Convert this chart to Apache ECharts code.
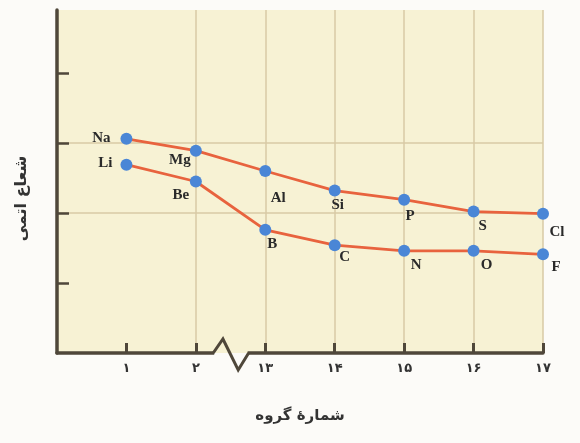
<!DOCTYPE html>
<html>
<head>
<meta charset="utf-8">
<script src="https://cdn.jsdelivr.net/npm/echarts@6/dist/echarts.min.js"></script>
<style>
html,body{margin:0;padding:0;background:#fcfbf8;}
#chart{width:580px;height:443px;}
</style>
</head>
<body>
<div id="chart"></div>
<script>
// Category positions (index on axis) and their tick labels
const groupPositions = [1, 2, 3, 4, 5, 6, 7];
const groupLabels = ['۱', '۲', '۱۳', '۱۴', '۱۵', '۱۶', '۱۷'];

// Period 3 elements (upper line)
const period3Symbols = ['Na', 'Mg', 'Al', 'Si', 'P', 'S', 'Cl'];
const period3Radius = [3.06, 2.89, 2.60, 2.32, 2.19, 2.02, 1.99];

// Period 2 elements (lower line)
const period2Symbols = ['Li', 'Be', 'B', 'C', 'N', 'O', 'F'];
const period2Radius = [2.69, 2.45, 1.76, 1.54, 1.46, 1.46, 1.41];

const yTicks = [1, 2, 3, 4];

// label offsets (style only)
const period3Offsets = [[-25, -1], [-16, 9], [13, 27], [3, 15], [6, 16], [9, 15], [14, 18]];
const period2Offsets = [[-21, -2], [-15, 14], [7, 14], [10, 12], [12, 14], [13, 14], [13, 13]];

const plotBg = '#f7f2d4';
const pageBg = '#fcfbf8';
const axisColor = '#4f473a';
const gridColor = '#d9caa6';

function buildData(xs, ys, names, offsets) {
  return ys.map((v, i) => ({
    value: [xs[i], v],
    name: names[i],
    label: { offset: offsets[i] }
  }));
}

const labelStyle = {
  show: true,
  position: 'inside',
  formatter: p => p.name,
  fontFamily: 'Liberation Serif',
  fontWeight: 'bold',
  fontSize: 15,
  color: '#2a2a2a'
};

const chart = echarts.init(document.getElementById('chart'), null, { renderer: 'canvas' });

const option = {
  backgroundColor: pageBg,
  animation: false,
  grid: {
    left: 57, right: 37, top: 10, bottom: 90,
    show: true, backgroundColor: plotBg, borderWidth: 0
  },
  xAxis: {
    type: 'value', min: 0, max: 7, interval: 1,
    name: 'شمارهٔ گروه',
    nameLocation: 'middle', nameGap: 56,
    nameTextStyle: { fontFamily: 'DejaVu Sans', fontWeight: 'bold', fontSize: 15, color: '#333' },
    axisLine: { show: true, onZero: false, lineStyle: { color: axisColor, width: 3.5 } },
    axisTick: { show: true, inside: true, length: 10, customValues: groupPositions, lineStyle: { color: axisColor, width: 3 } },
    axisLabel: {
      customValues: groupPositions,
      formatter: v => groupLabels[groupPositions.indexOf(v)] || '',
      fontFamily: 'DejaVu Sans', fontWeight: 'bold', fontSize: 13, color: '#333', margin: 9
    },
    splitLine: { show: true, showMinLine: false, lineStyle: { color: gridColor, width: 1.5 } }
  },
  yAxis: {
    type: 'value', min: 0, max: 4.9, interval: 1,
    name: 'شعاع اتمی',
    nameLocation: 'middle', nameGap: 27,
    nameTextStyle: { fontFamily: 'DejaVu Sans', fontWeight: 'bold', fontSize: 16, color: '#333', padding: [0, 34, 0, 0] },
    axisLine: { show: true, lineStyle: { color: axisColor, width: 3.5 } },
    axisTick: { show: true, inside: true, length: 12, customValues: yTicks, lineStyle: { color: axisColor, width: 2.5 } },
    axisLabel: { show: false },
    splitLine: { show: true, showMinLine: false, showMaxLine: false, lineStyle: { color: gridColor, width: 1.5 } }
  },
  series: [
    {
      type: 'line', name: 'period3',
      data: buildData(groupPositions, period3Radius, period3Symbols, period3Offsets),
      lineStyle: { color: '#e8633e', width: 2.8 },
      itemStyle: { color: '#4a86d6' },
      symbol: 'circle', symbolSize: 12, showAllSymbol: true,
      label: labelStyle, z: 3
    },
    {
      type: 'line', name: 'period2',
      data: buildData(groupPositions, period2Radius, period2Symbols, period2Offsets),
      lineStyle: { color: '#e8633e', width: 2.8 },
      itemStyle: { color: '#4a86d6' },
      symbol: 'circle', symbolSize: 12, showAllSymbol: true,
      label: labelStyle, z: 3
    }
  ]
};
chart.setOption(option);

// axis break (zigzag) between group 2 and group 13, placed via the axis scale
function drawBreak() {
  const a = chart.convertToPixel({ gridIndex: 0 }, [2.25, 0]);
  const p = chart.convertToPixel({ gridIndex: 0 }, [2.39, 0]);
  const t = chart.convertToPixel({ gridIndex: 0 }, [2.61, 0]);
  const b = chart.convertToPixel({ gridIndex: 0 }, [2.76, 0]);
  const y0 = a[1];
  chart.setOption({
    graphic: [
      { type: 'rect', z: 100, shape: { x: a[0] + 1, y: y0 - 3, width: b[0] - a[0] - 2, height: 3 }, style: { fill: plotBg } },
      { type: 'rect', z: 100, shape: { x: a[0] + 1, y: y0, width: b[0] - a[0] - 2, height: 3 }, style: { fill: pageBg } },
      { type: 'polyline', z: 101, shape: { points: [[a[0], y0], [p[0], y0 - 14], [t[0], y0 + 17], [b[0], y0]] },
        style: { stroke: axisColor, lineWidth: 3, fill: null, lineJoin: 'miter' } }
    ]
  });
}
drawBreak();
</script>
</body>
</html>
